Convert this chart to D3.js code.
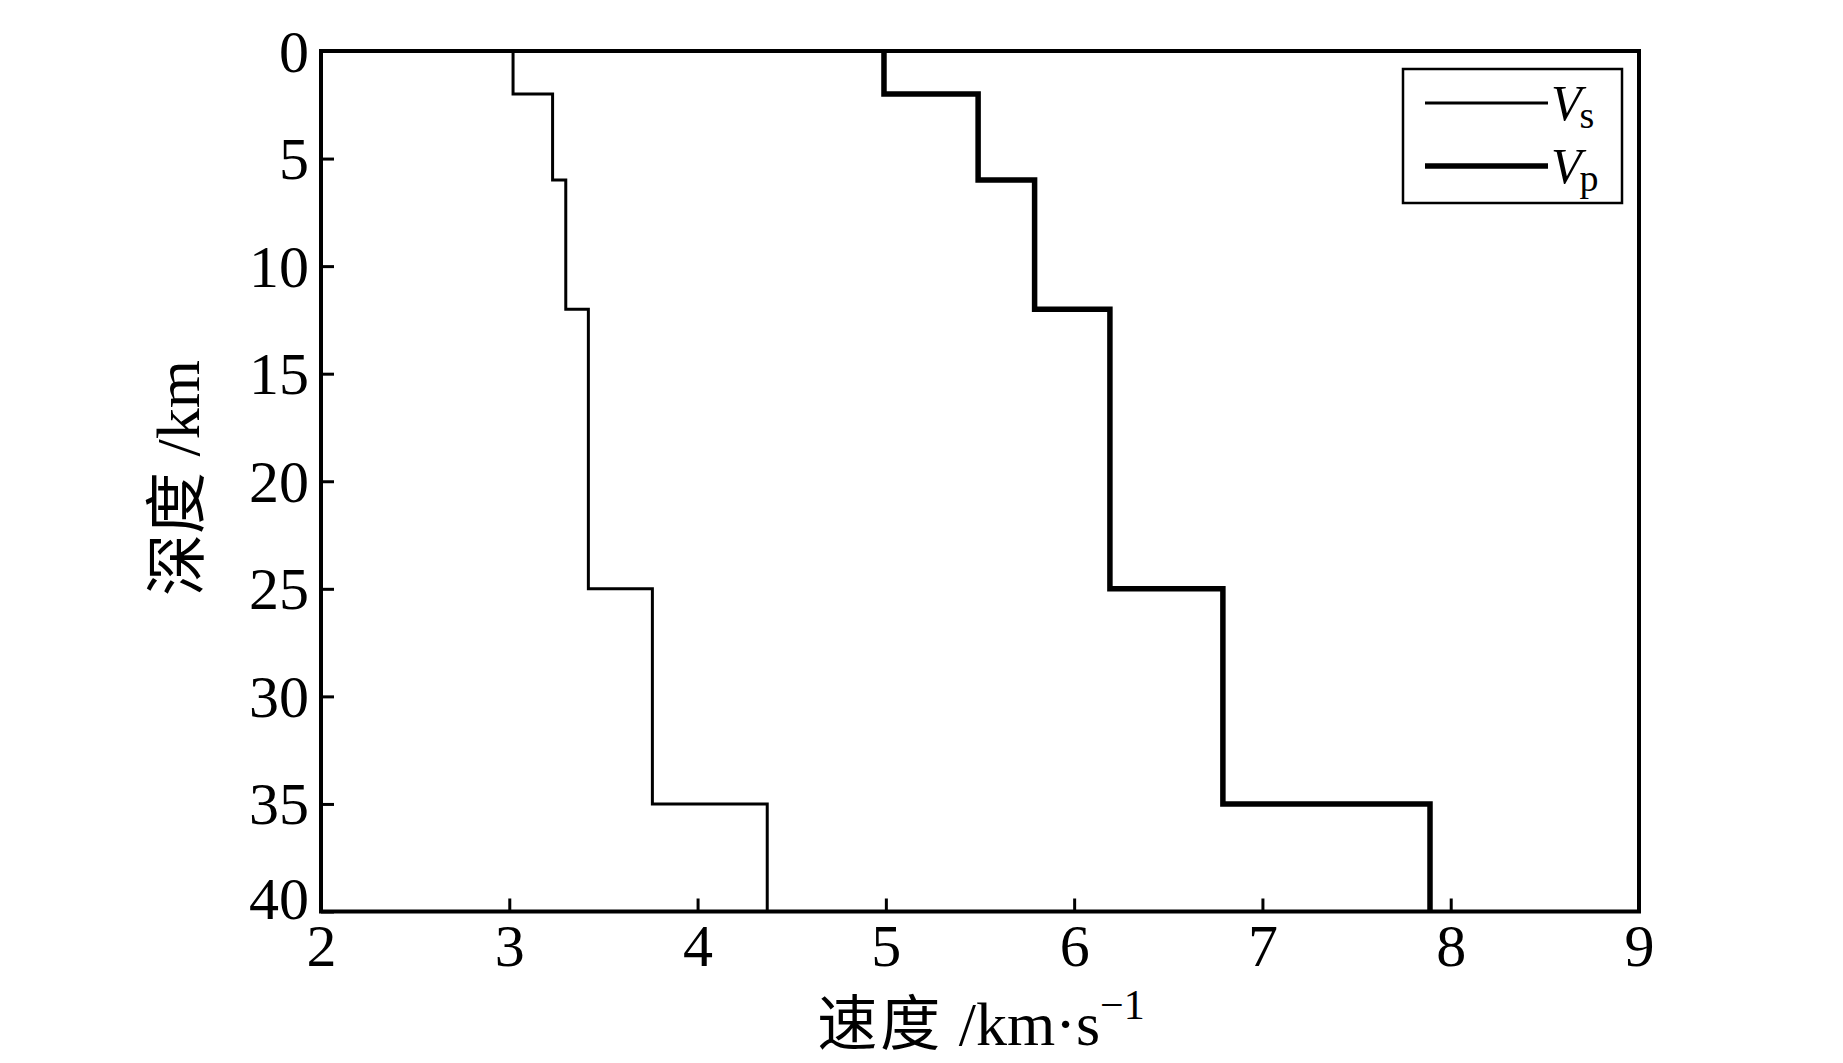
<!DOCTYPE html>
<html><head><meta charset="utf-8">
<script src="https://cdn.jsdelivr.net/npm/d3@7"></script>
<style>
html,body{margin:0;padding:0;background:#fff;}
svg{display:block;}
</style></head>
<body>
<svg id="chart" width="1843" height="1063"></svg>
<script>
// Layer boundaries (depth, km)
const depthBounds = [0, 2, 6, 12, 25, 35, 40];
// Velocities per layer (km/s)
const vsValues = [3.02, 3.23, 3.30, 3.42, 3.76, 4.37];
const vpValues = [4.99, 5.49, 5.79, 6.19, 6.79, 7.89];
const xTicks = [2, 3, 4, 5, 6, 7, 8, 9];
const yTicks = [0, 5, 10, 15, 20, 25, 30, 35, 40];
const seriesNames = ["s", "p"];

const svg = d3.select("#chart");
const L = 321, R = 1639, T = 51, B = 911.5;
const x = d3.scaleLinear().domain([2, 9]).range([L, R]);
const y = d3.scaleLinear().domain([0, 40]).range([T, B]);
const serif = "'Liberation Serif','Times New Roman',serif";
const cjk = "'Noto Sans CJK SC','Noto Sans CJK JP',sans-serif";

function stepPoints(vals) {
  const pts = [];
  vals.forEach((v, i) => {
    pts.push([v, depthBounds[i]]);
    pts.push([v, depthBounds[i + 1]]);
  });
  return pts;
}
const line = d3.line().x(d => x(d[0])).y(d => y(d[1]));

svg.append("path").attr("d", line(stepPoints(vsValues)))
  .attr("fill", "none").attr("stroke", "#000").attr("stroke-width", 3)
  .attr("stroke-linejoin", "miter");
svg.append("path").attr("d", line(stepPoints(vpValues)))
  .attr("fill", "none").attr("stroke", "#000").attr("stroke-width", 5.5)
  .attr("stroke-linejoin", "miter");

// X axis
const xAxis = svg.append("g").attr("transform", `translate(0,${B})`)
  .call(d3.axisBottom(x).tickValues(xTicks).tickSize(-13).tickPadding(14).tickFormat(d3.format("d")));
xAxis.select(".domain").remove();
xAxis.selectAll(".tick line").attr("stroke", "#000").attr("stroke-width", 3);
xAxis.selectAll(".tick text").attr("font-family", serif).attr("font-size", 60)
  .attr("fill", "#000").attr("dy", null).attr("y", 54);

// Y axis
const yAxis = svg.append("g").attr("transform", `translate(${L},0)`)
  .call(d3.axisLeft(y).tickValues(yTicks).tickSize(-13).tickPadding(12).tickFormat(d3.format("d")));
yAxis.select(".domain").remove();
yAxis.selectAll(".tick line").attr("stroke", "#000").attr("stroke-width", 3);
yAxis.selectAll(".tick text").attr("font-family", serif).attr("font-size", 60)
  .attr("fill", "#000").attr("dy", null)
  .attr("y", d => d === 40 ? 7 : 20);

// Frame
svg.append("rect").attr("x", L).attr("y", T).attr("width", R - L).attr("height", B - T)
  .attr("fill", "none").attr("stroke", "#000").attr("stroke-width", 4);

// Axis titles
const xt = svg.append("text").attr("x", 981).attr("y", 1045)
  .attr("text-anchor", "middle").attr("font-family", serif)
  .attr("font-size", 62).attr("fill", "#000");
xt.append("tspan").attr("font-family", cjk).attr("font-size", 60).attr("letter-spacing", 3).text("速度");
xt.append("tspan").text(" /km\u00B7s");
xt.append("tspan").attr("font-size", 42).attr("dy", -26).text("\u22121");

const yt = svg.append("text").attr("transform", "translate(199,478) rotate(-90)")
  .attr("text-anchor", "middle").attr("font-size", 62).attr("fill", "#000");
yt.append("tspan").attr("font-family", cjk).text("深度");
yt.append("tspan").attr("font-family", serif).text(" /km");

// Legend
const lg = svg.append("g");
lg.append("rect").attr("x", 1403).attr("y", 69).attr("width", 219).attr("height", 134)
  .attr("fill", "#fff").attr("stroke", "#000").attr("stroke-width", 2.5);
const legendRows = [{name: seriesNames[0], w: 3, yy: 103}, {name: seriesNames[1], w: 5.5, yy: 166}];
legendRows.forEach(r => {
  lg.append("line").attr("x1", 1425).attr("x2", 1548).attr("y1", r.yy).attr("y2", r.yy)
    .attr("stroke", "#000").attr("stroke-width", r.w);
  const t = lg.append("text").attr("x", 1551).attr("y", r.yy + 17)
    .attr("font-family", serif).attr("font-size", 50).attr("fill", "#000");
  t.append("tspan").attr("font-style", "italic").text("V");
  t.append("tspan").attr("font-size", 38).attr("dy", 8).attr("dx", -2).text(r.name);
});
</script>
</body></html>
